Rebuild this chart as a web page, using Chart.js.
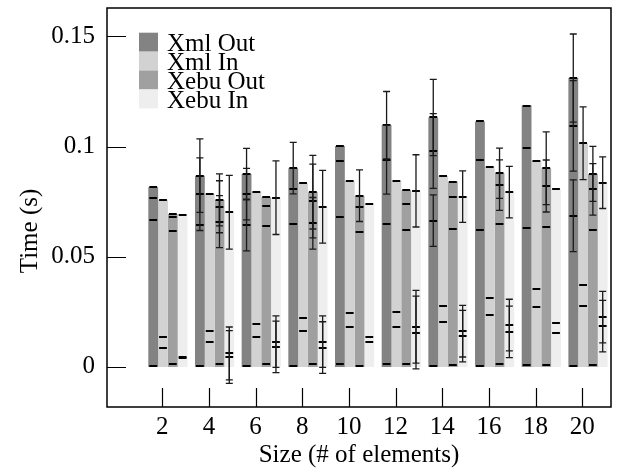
<!DOCTYPE html>
<html>
<head>
<meta charset="utf-8">
<script src="https://cdn.jsdelivr.net/npm/chart.js@4.4.1/dist/chart.umd.min.js"></script>
<style>
  html, body { margin: 0; padding: 0; background: #fff; }
</style>
</head>
<body>
<canvas id="chart" width="637" height="470"></canvas>
<script>
// message sizes on the x axis
const sizes = [2, 4, 6, 8, 10, 12, 14, 16, 18, 20];
const yTicks = [0, 0.05, 0.1, 0.15];

const seriesNames = ['Xml Out', 'Xml In', 'Xebu Out', 'Xebu In'];
const seriesColors = ['#838383', '#d2d2d2', '#a0a0a0', '#eeeeee'];

// bar totals (s)
const xmlOut = [0.0815, 0.0868, 0.0875, 0.0902, 0.1003, 0.1097, 0.1132, 0.1114, 0.1186, 0.1311];
const xmlIn = [0.0758, 0.0784, 0.0795, 0.0834, 0.0844, 0.0844, 0.0868, 0.0906, 0.0936, 0.1015];
const xebuOut = [0.0694, 0.0758, 0.0770, 0.0793, 0.0777, 0.0802, 0.0841, 0.0879, 0.0902, 0.0876];
const xebuIn = [0.0690, 0.0702, 0.0768, 0.0727, 0.0738, 0.0799, 0.0773, 0.0793, 0.0808, 0.0836];

// phase boundaries inside each bar (s)
const xmlOutMarks = [
  [0.0005, 0.0667, 0.0768], [0.0005, 0.0644, 0.0784], [0.0005, 0.0644, 0.0784],
  [0.0005, 0.0647, 0.0806], [0.0015, 0.0682, 0.0935], [0.0015, 0.0647, 0.0940],
  [0.0005, 0.0664, 0.0980], [0.0005, 0.0621, 0.0940], [0.0010, 0.0629, 0.0995],
  [0.0005, 0.0686, 0.1094]
];
const xmlInMarks = [
  [0.0088, 0.0136], [0.0114, 0.0162], [0.0136, 0.0195], [0.0162, 0.0223], [0.0179, 0.0243],
  [0.0182, 0.0250], [0.0202, 0.0277], [0.0236, 0.0312], [0.0273, 0.0352], [0.0277, 0.0371]
];
const xebuOutMarks = [
  [0.0014, 0.0615, 0.0682], [0.0014, 0.0659, 0.0727], [0.0012, 0.0640, 0.0730],
  [0.0012, 0.0652, 0.0753], [0.0005, 0.0614, 0.0725], [0.0012, 0.0621, 0.0740],
  [0.0008, 0.0626, 0.0770], [0.0015, 0.0649, 0.0825], [0.0010, 0.0636, 0.0821],
  [0.0010, 0.0621, 0.0806]
];
const xebuInMarks = [
  [0.0040, 0.0047], [0.0045, 0.0061], [0.0091, 0.0115], [0.0088, 0.0115], [0.0111, 0.0134],
  [0.0156, 0.0182], [0.0140, 0.0162], [0.0159, 0.0190], [0.0152, 0.0197], [0.0185, 0.0226]
];

// error bars: [level, half range]
const xmlOutErr = [
  [], [[0.0868, 0.0167], [0.0784, 0.0165]],
  [[0.0875, 0.0117], [0.0784, 0.0117], [0.0644, 0.0117]],
  [[0.0902, 0.0117]], [], [[0.1097, 0.0153], [0.0940, 0.0156]],
  [[0.1132, 0.0173], [0.0980, 0.0170], [0.0664, 0.0117]],
  [], [], [[0.1311, 0.0200], [0.1094, 0.0205], [0.0686, 0.0163]]
];
const xmlInErr = [[], [], [], [], [], [], [], [], [], [[0.1015, 0.0165]]];
const xebuOutErr = [
  [], [[0.0758, 0.0118], [0.0727, 0.0118], [0.0659, 0.0118]], [],
  [[0.0793, 0.0167], [0.0753, 0.0167], [0.0652, 0.0117]], [[0.0777, 0.0117]], [], [],
  [[0.0879, 0.0114], [0.0825, 0.0115]], [[0.0902, 0.0165], [0.0821, 0.0118]],
  [[0.0876, 0.0125], [0.0806, 0.0117]]
];
const xebuInErr = [
  [], [[0.0702, 0.0167], [0.0061, 0.0120], [0.0045, 0.0120]],
  [[0.0768, 0.0167], [0.0115, 0.0117], [0.0091, 0.0117]],
  [[0.0727, 0.0165], [0.0115, 0.0117], [0.0088, 0.0117]], [],
  [[0.0799, 0.0164], [0.0182, 0.0165], [0.0156, 0.0165]],
  [[0.0773, 0.0117], [0.0162, 0.0117], [0.0140, 0.0117]],
  [[0.0793, 0.0117], [0.0190, 0.0117], [0.0159, 0.0117]], [],
  [[0.0836, 0.0117], [0.0226, 0.0117], [0.0185, 0.0117]]
];

const totals = [xmlOut, xmlIn, xebuOut, xebuIn];
const marks = [xmlOutMarks, xmlInMarks, xebuOutMarks, xebuInMarks];
const errs = [xmlOutErr, xmlInErr, xebuOutErr, xebuInErr];

const FONT = '"Liberation Serif", "Times New Roman", serif';
Chart.defaults.font.family = FONT;
Chart.defaults.font.size = 25;
Chart.defaults.color = '#000';

const sizeTicks = s => { s.ticks = sizes.map(v => ({ value: v })); };

const decorPlugin = {
  id: 'decor',
  beforeDraw(chart) {
    const ctx = chart.ctx;
    ctx.save();
    ctx.fillStyle = '#fff';
    ctx.fillRect(0, 0, chart.width, chart.height);
    ctx.restore();
  },
  afterDatasetsDraw(chart) {
    const ctx = chart.ctx;
    const y = chart.scales.y;
    ctx.save();
    chart.data.datasets.forEach((ds, di) => {
      const meta = chart.getDatasetMeta(di);
      meta.data.forEach((bar, i) => {
        const half = bar.width / 2;
        // phase boundaries
        ctx.strokeStyle = '#000';
        ctx.lineWidth = 2;
        [ds.data[i].y].concat(ds.marks[i]).forEach(v => {
          const py = Math.round(y.getPixelForValue(v));
          ctx.beginPath();
          ctx.moveTo(bar.x - half + 1, py);
          ctx.lineTo(bar.x + half - 1, py);
          ctx.stroke();
        });
        // error bars
        ctx.strokeStyle = '#1a1a1a';
        ctx.lineWidth = 1.3;
        ds.errs[i].forEach(([v, e]) => {
          const top = y.getPixelForValue(v + e);
          const bot = y.getPixelForValue(v - e);
          ctx.beginPath();
          ctx.moveTo(bar.x, top);
          ctx.lineTo(bar.x, bot);
          ctx.moveTo(bar.x - 3.5, top);
          ctx.lineTo(bar.x + 3.5, top);
          ctx.moveTo(bar.x - 3.5, bot);
          ctx.lineTo(bar.x + 3.5, bot);
          ctx.stroke();
        });
      });
    });
    ctx.restore();
  },
  afterDraw(chart) {
    const ctx = chart.ctx;
    const area = chart.chartArea;
    const x = chart.scales.x;
    const y = chart.scales.y;
    ctx.save();
    // frame
    ctx.strokeStyle = '#000';
    ctx.lineWidth = 1.5;
    ctx.strokeRect(area.left, area.top, area.right - area.left, area.bottom - area.top);
    // inward ticks
    ctx.beginPath();
    yTicks.forEach(v => {
      const py = Math.round(y.getPixelForValue(v)) + 0.5;
      ctx.moveTo(area.left, py);
      ctx.lineTo(area.left + 19, py);
    });
    sizes.forEach(v => {
      const px = Math.round(x.getPixelForValue(v)) + 0.5;
      ctx.moveTo(px, area.bottom);
      ctx.lineTo(px, area.bottom - 19);
    });
    ctx.lineWidth = 1.2;
    ctx.stroke();

    // legend
    ctx.font = '25px ' + FONT;
    ctx.textAlign = 'left';
    ctx.textBaseline = 'alphabetic';
    chart.data.datasets.forEach((ds, i) => {
      const top = area.top + 24.7 + i * 18.9;
      ctx.fillStyle = ds.backgroundColor;
      ctx.fillRect(area.left + 32, top, 19, 19);
      ctx.fillStyle = '#000';
      ctx.fillText(ds.label, area.left + 60, top + 18.5);
    });

    // axis titles
    ctx.textAlign = 'center';
    ctx.fillText('Size (# of elements)', (area.left + area.right) / 2, 462);
    ctx.translate(37, 231);
    ctx.rotate(-Math.PI / 2);
    ctx.fillText('Time (s)', 0, 0);
    ctx.restore();
  }
};

new Chart(document.getElementById('chart'), {
  type: 'bar',
  data: {
    datasets: seriesNames.map((name, si) => ({
      label: name,
      xAxisID: 'xb',
      data: sizes.map((s, i) => ({ x: s, y: totals[si][i] })),
      marks: marks[si],
      errs: errs[si],
      backgroundColor: seriesColors[si],
      borderWidth: 0,
      categoryPercentage: 0.84,
      barPercentage: 1.0
    }))
  },
  options: {
    responsive: false,
    animation: false,
    layout: { padding: { top: 8, right: 26, left: 0, bottom: 0 } },
    plugins: {
      legend: { display: false },
      tooltip: { enabled: false }
    },
    scales: {
      xb: {
        type: 'linear',
        display: false,
        offset: false,
        min: -0.61,
        max: 20.986,
        afterBuildTicks: sizeTicks
      },
      x: {
        type: 'linear',
        position: 'bottom',
        offset: false,
        min: -0.366,
        max: 21.23,
        afterBuildTicks: sizeTicks,
        afterFit: s => { s.height = 63; s.paddingLeft = 0; s.paddingRight = 0; },
        grid: { display: false, drawTicks: false },
        border: { display: false },
        ticks: { padding: 5, maxRotation: 0, autoSkip: false, callback: v => String(v) }
      },
      y: {
        min: -0.0182,
        max: 0.1629,
        afterBuildTicks: s => { s.ticks = yTicks.map(v => ({ value: v })); },
        afterFit: s => { s.width = 107; s.paddingTop = 0; s.paddingBottom = 0; },
        grid: { display: false, drawTicks: false },
        border: { display: false },
        ticks: { padding: 12, callback: v => String(v) }
      }
    }
  },
  plugins: [decorPlugin]
});
</script>
</body>
</html>
